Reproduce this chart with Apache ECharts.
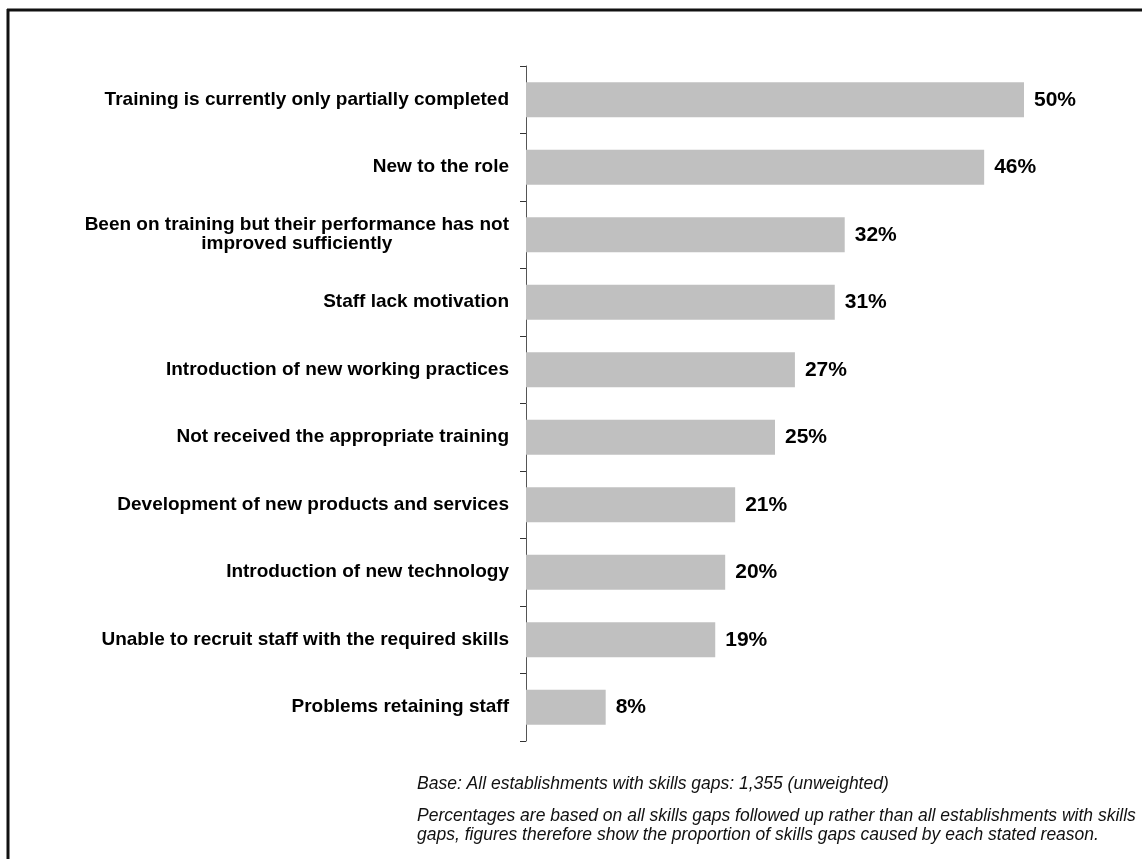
<!DOCTYPE html>
<html>
<head>
<meta charset="utf-8">
<style>
  html, body { margin: 0; padding: 0; background: #ffffff; }
  #chart { width: 1142px; height: 859px; }
</style>
<script src="https://cdn.jsdelivr.net/npm/echarts@6/dist/echarts.min.js"></script>
</head>
<body>
<div id="chart"></div>
<script>
// Reasons for skills gaps, top to bottom
const reasons = [
  'Training is currently only partially completed',
  'New to the role',
  'Been on training but their performance has not\nimproved sufficiently',
  'Staff lack motivation',
  'Introduction of new working practices',
  'Not received the appropriate training',
  'Development of new products and services',
  'Introduction of new technology',
  'Unable to recruit staff with the required skills',
  'Problems retaining staff'
];
// Share of skills gaps caused by each reason (%)
const shares = [50, 46, 32, 31, 27, 25, 21, 20, 19, 8];

const notes = [
  'Base: All establishments with skills gaps: 1,355 (unweighted)',
  'Percentages are based on all skills gaps followed up rather than all establishments with skills',
  'gaps, figures therefore show the proportion of skills gaps caused by each stated reason.'
];

const chart = echarts.init(document.getElementById('chart'));
const noteFont = 'italic 17.5px "Liberation Sans", Arial, sans-serif';
const noteText = (text, y) => ({
  type: 'text',
  style: { text: text, x: 417, y: y, verticalAlign: 'middle', fill: '#111', font: noteFont }
});

const labelFont = {
  color: '#000',
  fontFamily: '"Liberation Sans", Arial, sans-serif',
  fontWeight: 'bold',
  fontSize: 19,
  lineHeight: 19
};

chart.setOption({
  animation: false,
  backgroundColor: '#ffffff',
  grid: { left: 526, right: 118, top: 66, height: 675, containLabel: false },
  xAxis: {
    type: 'value',
    min: 0,
    max: 50,
    show: false
  },
  yAxis: {
    type: 'category',
    inverse: true,
    data: reasons,
    axisLine: { show: true, lineStyle: { color: '#555', width: 1 } },
    axisTick: { show: true, length: 6, lineStyle: { color: '#333', width: 1 } },
    axisLabel: Object.assign({
      margin: 17,
      align: 'right',
      // wrapped labels keep their lines centred under each other
      formatter: v => v.split('\n').map(s => '{c|' + s + '}').join('\n'),
      rich: { c: Object.assign({ align: 'center' }, labelFont) }
    }, labelFont)
  },
  series: [{
    type: 'bar',
    data: shares,
    barCategoryGap: '48%',
    itemStyle: { color: '#c0c0c0' },
    label: {
      show: true,
      position: 'right',
      distance: 10,
      formatter: '{c}%',
      color: '#000',
      fontFamily: '"Liberation Sans", Arial, sans-serif',
      fontWeight: 'bold',
      fontSize: 21
    }
  }],
  graphic: [
    // frame: top and left edges
    { type: 'line', shape: { x1: 7, y1: 10, x2: 1142, y2: 10 }, style: { stroke: '#111', lineWidth: 3 } },
    { type: 'line', shape: { x1: 8, y1: 9, x2: 8, y2: 859 }, style: { stroke: '#111', lineWidth: 3 } },
    noteText(notes[0], 784),
    noteText(notes[1], 816),
    noteText(notes[2], 835)
  ]
});
</script>
</body>
</html>
